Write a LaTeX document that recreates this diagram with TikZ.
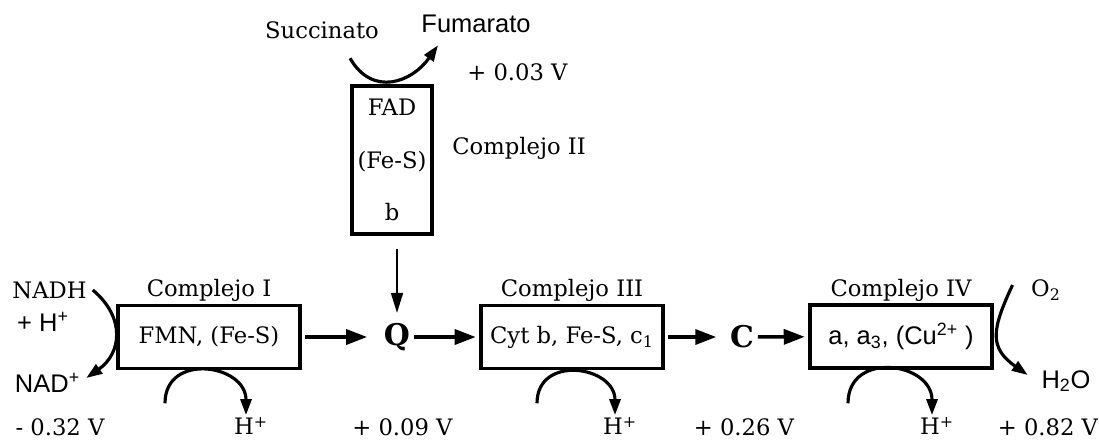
\documentclass[tikz,border=0pt]{standalone}
\usepackage{fontspec}
\setmainfont{DejaVu Serif}
\setsansfont{Liberation Sans}
\usepackage{tikz}
\usetikzlibrary{arrows.meta, positioning, calc}
\newcommand{\serlab}{\fontsize{12.9pt}{15.5pt}\selectfont}
\newcommand{\sanlab}{\sffamily\fontsize{14.5pt}{17pt}\selectfont}

\begin{document}
\begin{tikzpicture}[
		% global settings
		font=\serlab,
		% styles
		cplx/.style={rectangle, draw=black, line width=2pt, minimum width=3.64cm, minimum height=1.26cm, inner sep=0pt, align=center},
		carrier/.style={font=\fontsize{17pt}{20pt}\selectfont\bfseries, inner sep=0pt},
		lbl/.style={inner sep=1pt},
		flow/.style={-{Triangle[length=0.42cm, width=0.3cm]}, line width=2pt, shorten <=2pt, shorten >=2pt},
		feed/.style={-{Triangle[length=0.4cm, width=0.24cm]}, line width=1pt},
		pump/.style={-{Triangle[length=0.32cm, width=0.22cm]}, line width=1.8pt}
		]
		\useasboundingbox[fill=white] (0,0) rectangle (21.98,8.82);
		
		% ==========================================
		% Main chain (bottom row)
		% ==========================================
		
		\node[cplx] (cI) at (4.18,2.08) {FMN, (Fe-S)};
		\node[carrier] (ubq) at (7.94,2.08) {Q};
		\node[cplx] (cIII) at (11.44,2.08) {Cyt b, Fe-S, c\textsubscript{1}};
		\node[carrier] (cytc) at (14.84,2.08) {C};
		\node[cplx, font=\sanlab] (cIV) at (18.02,2.09) {a, a\textsubscript{3}, (Cu\textsuperscript{2+} )};
		
		\node[lbl, above=0pt of cI] (lblI) {Complejo I};
		\node[lbl, above=0pt of cIII] (lblIII) {Complejo III};
		\node[lbl, above=0pt of cIV] (lblIV) {Complejo IV};
		
		\draw[flow, shorten >=0.33cm] (cI) -- (ubq);
		\draw[flow] (ubq) -- (cIII);
		\draw[flow, shorten >=0.27cm] (cIII) -- (cytc);
		\draw[flow] (cytc) -- (cIV);
		
		% ==========================================
		% Complejo II (top)
		% ==========================================
		
		\node[cplx, minimum width=1.6cm, minimum height=2.96cm] (cII) at (7.84,5.62) {FAD\\[0.5cm](Fe-S)\\[0.5cm]b};
		\node[lbl, right=0.33cm of cII, yshift=0.24cm] (lblII) {Complejo II};
		
		\node[lbl] (succ) at (6.44,8.22) {Succinato};
		\node[lbl, font=\sanlab] (fum) at (9.52,8.34) {Fumarato};
		\node[lbl] (vII) at (10.35,7.38) {+ 0.03 V};
		
		\coordinate (suc_a) at ($(cII.north)+(-0.84,0.52)$);
		\coordinate (fum_b) at ($(cII.north)+(0.92,0.78)$);
		\draw[pump] (suc_a) to[out=-60, in=-125, looseness=1.3] (fum_b);
		
		\draw[feed, shorten <=0.26cm, shorten >=0.2cm] (cII.south -| ubq) -- (ubq.north);
		
		% ==========================================
		% Substrates in / out
		% ==========================================
		
		\node (nadh) at (0.99,3.02) {NADH};
		\node[font=\sanlab] (hin) at (0.86,2.38) {+ H\textsuperscript{+}};
		\node[font=\sanlab] (nad) at (0.95,1.16) {NAD\textsuperscript{+}};
		\draw[pump] (nadh.east) to[out=-40, in=35, looseness=1.25] ([yshift=0.1cm]nad.east);
		
		\node (o2) at (20.92,3.02) {O\textsubscript{2}};
		\node[font=\sanlab] (h2o) at (21.32,1.2) {H\textsubscript{2}O};
		\draw[pump] ([xshift=-0.25cm, yshift=0.1cm]o2.west) to[out=-115, in=145, looseness=1.35] ([xshift=-0.15cm, yshift=0.12cm]h2o.west);
		
		% ==========================================
		% Proton pumping + potentials
		% ==========================================
		
		\node[lbl] (hI) at (5.02,0.3) {H\textsuperscript{+}};
		\node[lbl] (hIII) at (12.4,0.3) {H\textsuperscript{+}};
		\node[lbl] (hIV) at (18.74,0.3) {H\textsuperscript{+}};
		
		\coordinate (pI) at ($(cI.south)+(-0.88,-0.66)$);
		\coordinate (pIII) at ($(cIII.south)+(-0.7,-0.66)$);
		\coordinate (pIV) at ($(cIV.south)+(-1.06,-0.67)$);
		\draw[pump] (pI) to[out=90, in=90, looseness=1.6] ([xshift=-0.1cm]hI.north);
		\draw[pump] (pIII) to[out=90, in=90, looseness=1.6] ([xshift=-0.1cm]hIII.north);
		\draw[pump] (pIV) to[out=90, in=90, looseness=1.6] ([xshift=-0.1cm]hIV.north);
		
		\node[lbl] (vI) at (1.2,0.28) {- 0.32 V};
		\node[lbl] (vQ) at (8.05,0.28) {+ 0.09 V};
		\node[lbl] (vC) at (14.88,0.28) {+ 0.26 V};
		\node[lbl] (vO) at (20.96,0.28) {+ 0.82 V};
		
	\end{tikzpicture}
\end{document}
